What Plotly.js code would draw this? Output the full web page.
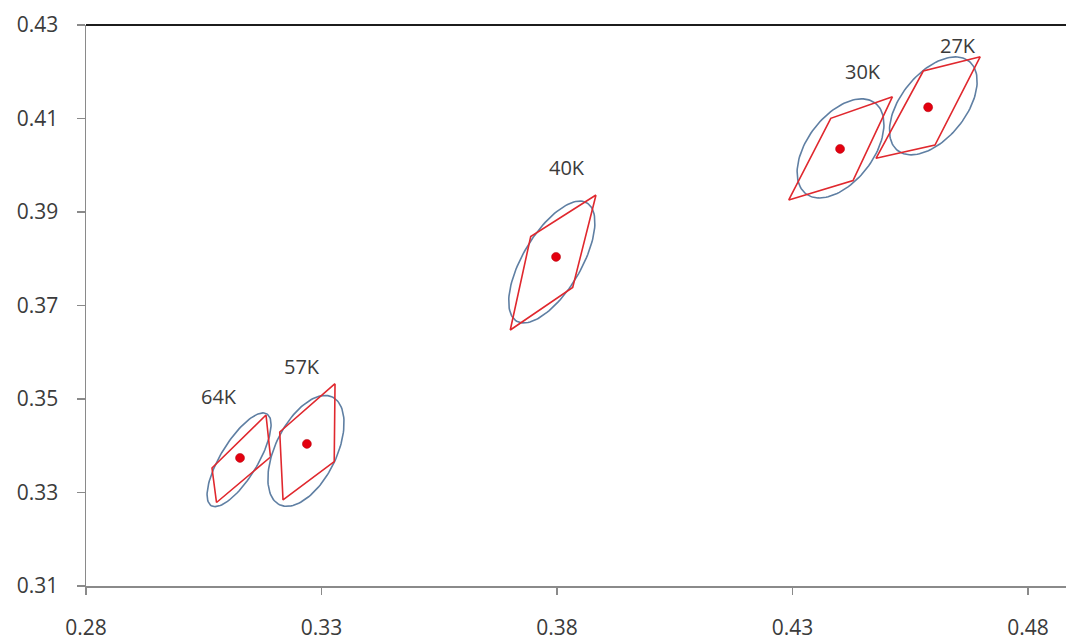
<!DOCTYPE html>
<html>
<head>
<meta charset="utf-8">
<script src="https://cdn.plot.ly/plotly-3.0.1.min.js"></script>
<style>html,body{margin:0;padding:0;background:#fff;}#chart{width:1066px;height:641px;}</style>
</head>
<body>
<div id="chart"></div>
<script>
// ---- data ----
const labels = ["64K", "57K", "40K", "30K", "27K"];
// measured point (red dot)
const pointX = [0.3127, 0.3269, 0.3798, 0.4401, 0.4588];
const pointY = [0.3374, 0.3404, 0.3804, 0.4035, 0.4124];
// ellipse (centre, semi-axes in axis units, tilt in degrees)
const ellCX = [0.3125, 0.3267, 0.3789, 0.4402, 0.4599];
const ellCY = [0.3370, 0.3389, 0.3793, 0.4036, 0.4127];
const ellA = [0.01145, 0.01281, 0.01468, 0.01217, 0.01219];
const ellB = [0.00394, 0.00647, 0.00617, 0.00702, 0.00691];
const ellAngle = [59, 64, 59.5, 53, 51.6];
// quadrilateral corners (x list, y list per label)
const quadX = [
  [0.31822, 0.31917, 0.30771, 0.30675],
  [0.33287, 0.33270, 0.32183, 0.32113],
  [0.38828, 0.38333, 0.37008, 0.37442],
  [0.45123, 0.44285, 0.42921, 0.43813],
  [0.46987, 0.46025, 0.44773, 0.45777]
];
const quadY = [
  [0.34658, 0.33759, 0.32786, 0.33524],
  [0.35327, 0.33659, 0.32840, 0.34294],
  [0.39364, 0.37385, 0.36476, 0.38476],
  [0.41466, 0.39674, 0.39257, 0.41004],
  [0.42322, 0.40433, 0.40149, 0.42016]
];
const xTicks = [0.28, 0.33, 0.38, 0.43, 0.48];
const xTickText = ["0.28", "0.33", "0.38", "0.43", "0.48"];
const yTicks = [0.31, 0.33, 0.35, 0.37, 0.39, 0.41, 0.43];
const yTickText = ["0.31", "0.33", "0.35", "0.37", "0.39", "0.41", "0.43"];

// ---- styling (not data) ----
const labelShift = [[-21, 61], [-5, 77], [11, 89], [23, 77], [30, 62]];
const textColor = "#3b3b3b";
const fontFam = "'Open Sans', 'Noto Sans', sans-serif";

const traces = [];
for (let i = 0; i < labels.length; i++) {
  const ex = [], ey = [];
  const th = ellAngle[i] * Math.PI / 180;
  for (let k = 0; k <= 120; k++) {
    const t = 2 * Math.PI * k / 120;
    const ca = ellA[i] * Math.cos(t), sb = ellB[i] * Math.sin(t);
    ex.push(ellCX[i] + ca * Math.cos(th) - sb * Math.sin(th));
    ey.push(ellCY[i] + ca * Math.sin(th) + sb * Math.cos(th));
  }
  traces.push({x: ex, y: ey, mode: "lines", type: "scatter", hoverinfo: "skip",
    line: {color: "#5f7fa3", width: 1.6}, showlegend: false});
  traces.push({x: quadX[i].concat([quadX[i][0]]), y: quadY[i].concat([quadY[i][0]]),
    mode: "lines", type: "scatter", hoverinfo: "skip",
    line: {color: "#e0282e", width: 1.6}, showlegend: false});
}
traces.push({x: pointX, y: pointY, mode: "markers", type: "scatter",
  marker: {color: "#e3000f", size: 9, line: {color: "#b0000a", width: 0.5}}, showlegend: false});

const annotations = labels.map((t, i) => ({
  x: pointX[i], y: pointY[i], xref: "x", yref: "y", text: t, showarrow: false,
  xshift: labelShift[i][0], yshift: labelShift[i][1],
  font: {family: fontFam, size: 20, color: textColor}
}));

const layout = {
  width: 1066, height: 641,
  margin: {l: 86, r: 0, t: 25, b: 55, pad: 0},
  paper_bgcolor: "#ffffff", plot_bgcolor: "#ffffff",
  showlegend: false,
  font: {family: fontFam, size: 21, color: textColor},
  xaxis: {range: [0.28, 0.48807], tickvals: xTicks, ticktext: xTickText,
    showgrid: false, zeroline: false, showline: true, linecolor: "#8a8a8a", linewidth: 1.5,
    ticks: "outside", ticklen: 7, tickcolor: "#8a8a8a", tickwidth: 1.2,
    ticklabelstandoff: 15, tickfont: {family: fontFam, size: 21, color: textColor}},
  yaxis: {range: [0.31, 0.43], tickvals: yTicks, ticktext: yTickText,
    showgrid: false, zeroline: false, showline: true, linecolor: "#8a8a8a", linewidth: 1.5,
    ticks: "outside", ticklen: 8, tickcolor: "#8a8a8a", tickwidth: 1.2,
    ticklabelstandoff: 14, tickfont: {family: fontFam, size: 21, color: textColor}},
  shapes: [{type: "line", xref: "paper", yref: "paper", x0: 0, x1: 1, y0: 1, y1: 1,
    line: {color: "#1c1c1c", width: 2}}],
  annotations: annotations
};
Plotly.newPlot("chart", traces, layout, {displayModeBar: false, staticPlot: true});
</script>
</body>
</html>
